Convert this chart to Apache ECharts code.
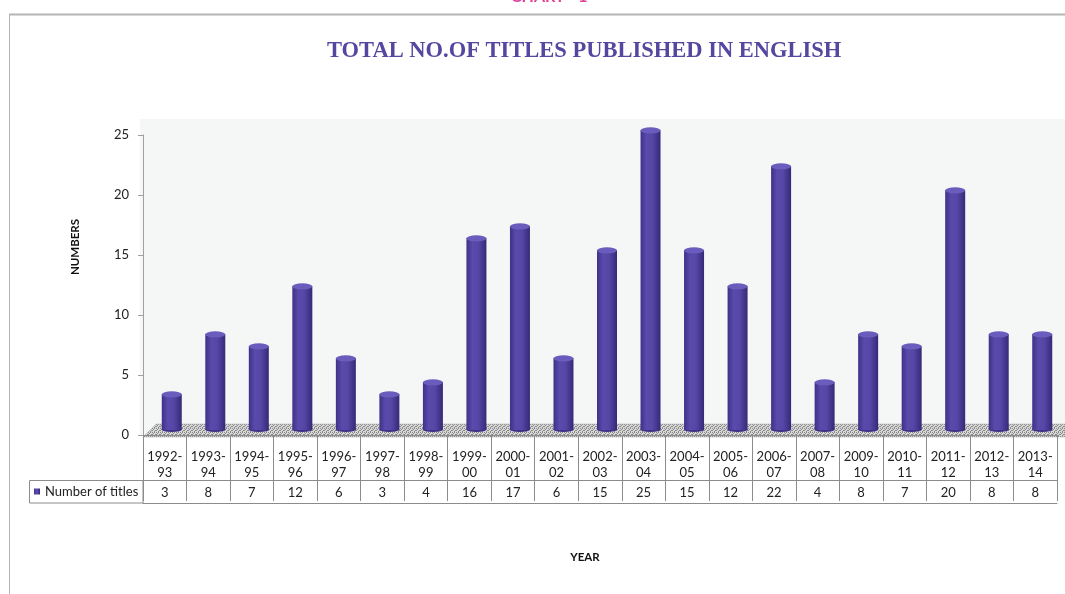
<!DOCTYPE html>
<html>
<head>
<meta charset="utf-8">
<script src="https://cdn.jsdelivr.net/npm/echarts@6/dist/echarts.min.js"></script>
<style>
html,body{margin:0;padding:0;background:#fff;}
#c{width:1065px;height:594px;}
</style>
</head>
<body>
<div id="c"></div>
<script>
var categories = ['1992-93','1993-94','1994-95','1995-96','1996-97','1997-98','1998-99','1999-00','2000-01','2001-02','2002-03','2003-04','2004-05','2005-06','2006-07','2007-08','2009-10','2010-11','2011-12','2012-13','2013-14'];
var titlesCount = [3,8,7,12,6,3,4,16,17,6,15,25,15,12,22,4,8,7,20,8,8];
var yTicks = [0,5,10,15,20,25];
var seriesName = 'Number of titles';

var FONT = 'Lato, "Liberation Sans", sans-serif';

// hatch pattern for floor
var pc = document.createElement('canvas');
pc.width = 4; pc.height = 4;
var pctx = pc.getContext('2d');
pctx.fillStyle = '#d8d8d8'; pctx.fillRect(0,0,4,4);
pctx.fillStyle = '#8a8a8a';
pctx.fillRect(0,0,1,1); pctx.fillRect(2,0,1,1); pctx.fillRect(1,1,1,1); pctx.fillRect(3,2,1,1);
pctx.fillRect(0,2,1,1); pctx.fillRect(2,3,1,1);

var chart = echarts.init(document.getElementById('c'), null, {renderer:'canvas'});

var catLabels = categories.map(function(c){ var p = c.split('-'); return p[0] + '-\n' + p[1]; });
var valLabels = titlesCount.map(function(v){ return String(v); });

var DX = 7, DY = -5; // 3D depth shift of the bars

var option = {
  animation: false,
  backgroundColor: '#ffffff',
  title: {
    text: 'TOTAL NO.OF TITLES PUBLISHED IN ENGLISH',
    left: 322, top: 35,
    textStyle: {fontFamily: '"Liberation Serif", "DejaVu Serif", serif', fontWeight: 'bold', fontSize: 22.5, color: '#5546a0'}
  },
  legend: {
    data: [seriesName],
    left: 34, top: 485,
    itemWidth: 6, itemHeight: 6, itemGap: 4,
    icon: 'rect',
    padding: 0,
    textStyle: {fontFamily: FONT, fontSize: 13, color: '#222', padding: [0,0,0,0]}
  },
  graphic: [
    {type:'text', left: 511, top: -11, z: 10, style:{text:'CHART - 1', fill:'#e0409a', font:'bold 16px ' + FONT}},
    {type:'line', z: 10, shape:{x1:9, y1:14.5, x2:1065, y2:14.5}, style:{stroke:'#b4b4b4', lineWidth:2}},
    {type:'line', z: 10, shape:{x1:9.5, y1:14, x2:9.5, y2:594}, style:{stroke:'#b4b4b4', lineWidth:1}},
    {type:'rect', z: -100, shape:{x:140, y:119, width:925, height:316}, style:{fill:'#f5f7f7'}},
    {type:'polygon', z: -90, shape:{points:[[143,437],[156,424],[1065,424],[1065,437]]}, style:{fill:{image: pc, repeat:'repeat'}, stroke:'#a8a8a8', lineWidth:0.5}},
    {type:'rect', z: 10, shape:{x:29.5, y:480.5, width:113.5, height:22.5}, style:{fill:'none', stroke:'#8c8c8c', lineWidth:1}},
    {type:'text', z: 10, x: 75, y: 247, rotation: Math.PI/2, style:{text:'NUMBERS', fill:'#111', font:'bold 11.5px ' + FONT, align:'center', verticalAlign:'middle'}},
    {type:'text', z: 10, x: 585, y: 557, style:{text:'YEAR', fill:'#111', font:'bold 11.5px ' + FONT, align:'center', verticalAlign:'middle'}}
  ],
  grid: {left: 143, right: 8, top: 135, bottom: 159, containLabel: false},
  xAxis: [
    {
      type: 'category', data: catLabels, position: 'bottom', offset: 2,
      boundaryGap: true,
      axisLine: {show: true, lineStyle: {color: '#8c8c8c', width: 1}},
      axisTick: {show: true, length: 66, interval: 0, alignWithLabel: false, lineStyle: {color: '#8c8c8c'}},
      axisLabel: {interval: 0, margin: 12, fontFamily: FONT, fontSize: 13, lineHeight: 16, color: '#222'}
    },
    {
      type: 'category', data: valLabels, position: 'bottom', offset: 45,
      boundaryGap: true,
      axisLine: {show: true, lineStyle: {color: '#8c8c8c', width: 1}},
      axisTick: {show: false},
      axisLabel: {interval: 0, margin: 6, fontFamily: FONT, fontSize: 13, color: '#222'}
    },
    {
      type: 'category', data: valLabels, position: 'bottom', offset: 68,
      boundaryGap: true,
      axisLine: {show: true, lineStyle: {color: '#8c8c8c', width: 1}},
      axisTick: {show: false},
      axisLabel: {show: false}
    }
  ],
  yAxis: {
    type: 'value', min: yTicks[0], max: yTicks[yTicks.length-1], interval: yTicks[1]-yTicks[0],
    axisLine: {show: true, lineStyle: {color: '#a0a0a0', width: 1}},
    axisTick: {show: true, length: 5, lineStyle: {color: '#a0a0a0'}},
    axisLabel: {fontFamily: FONT, fontSize: 13, color: '#222', margin: 14},
    splitLine: {show: false}
  },
  series: [
    {
      name: seriesName, type: 'pictorialBar', data: titlesCount, symbol: 'rect',
      symbolSize: [20, '100%'], symbolPosition: 'start', symbolOffset: [DX, DY], z: 2,
      itemStyle: {
        color: new echarts.graphic.LinearGradient(0,0,1,0,[
          {offset:0, color:'#3f3188'},
          {offset:0.3, color:'#5a4aab'},
          {offset:0.6, color:'#5646a6'},
          {offset:1, color:'#362977'}
        ])
      }
    },
    {
      name: 'top', type: 'pictorialBar', data: titlesCount, symbol: 'circle',
      symbolSize: [20, 6], symbolPosition: 'end', symbolOffset: [DX, DY - 3], z: 3,
      itemStyle: {color: '#6a5cbc', borderColor: '#ffffff', borderWidth: 1},
      tooltip: {show: false}, legendHoverLink: false
    },
    {
      name: 'bottom', type: 'pictorialBar', data: titlesCount.map(function(){return 0;}), symbol: 'circle',
      symbolSize: [20, 5], symbolPosition: 'start', symbolOffset: [DX, DY + 2], z: 1,
      itemStyle: {color: '#3f3188'}
    }
  ]
};
chart.setOption(option);
</script>
</body>
</html>
